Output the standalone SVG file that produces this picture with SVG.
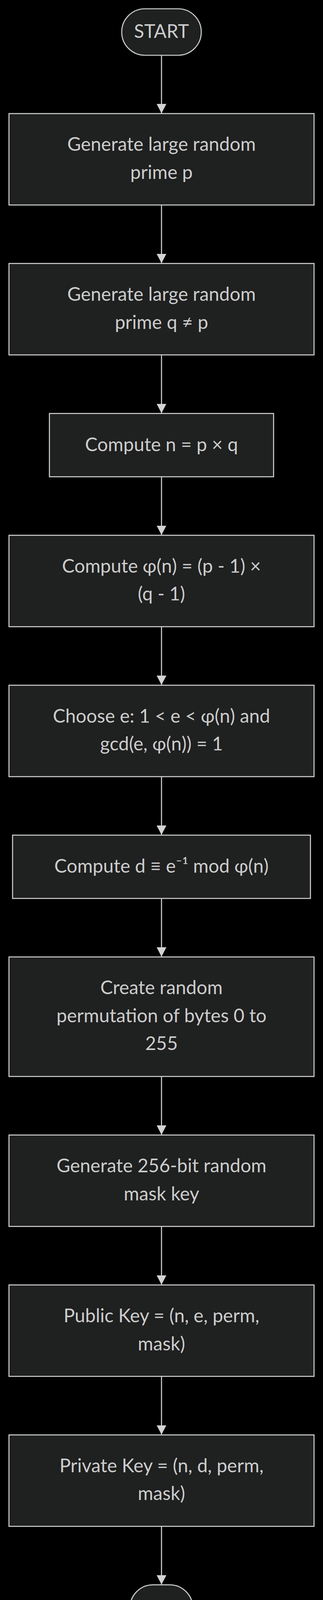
<svg xmlns="http://www.w3.org/2000/svg" width="828" height="4199" viewBox="0 0 828 4199">
<style>
.bg{fill:#000000}
.node{fill:#1f2020;stroke:#cccccc;stroke-width:2.7}
.lbl{fill:#cccccc;font-family:Lato,"Noto Sans","DejaVu Sans",sans-serif;font-size:48px;text-anchor:middle}
.edge{stroke:#d3d3d3;stroke-width:2.7;fill:none}
</style>
<defs>
<marker id="arrow" markerUnits="userSpaceOnUse" viewBox="0 0 24 25" refX="24" refY="12.5" markerWidth="24" markerHeight="25" orient="auto">
<path d="M0,0 L24,12.5 L0,25 z" fill="#d3d3d3"/>
</marker>
</defs>
<rect class="bg" x="0" y="0" width="828" height="4199"/>
<g id="connectors">
<line class="edge" x1="414" y1="141.5" x2="414" y2="290" marker-end="url(#arrow)"/>
<line class="edge" x1="414" y1="524.8" x2="414" y2="673.7" marker-end="url(#arrow)"/>
<line class="edge" x1="414" y1="908.5" x2="414" y2="1057.7" marker-end="url(#arrow)"/>
<line class="edge" x1="414" y1="1220.5" x2="414" y2="1369.5" marker-end="url(#arrow)"/>
<line class="edge" x1="414" y1="1604.3" x2="414" y2="1753.4" marker-end="url(#arrow)"/>
<line class="edge" x1="414" y1="1988.2" x2="414" y2="2137.2" marker-end="url(#arrow)"/>
<line class="edge" x1="414" y1="2300" x2="414" y2="2449" marker-end="url(#arrow)"/>
<line class="edge" x1="414" y1="2755.8" x2="414" y2="2904.9" marker-end="url(#arrow)"/>
<line class="edge" x1="414" y1="3139.7" x2="414" y2="3288.7" marker-end="url(#arrow)"/>
<line class="edge" x1="414" y1="3523.5" x2="414" y2="3672.6" marker-end="url(#arrow)"/>
<line class="edge" x1="414" y1="3907.4" x2="414" y2="4056.4" marker-end="url(#arrow)"/>
</g>
<g id="start">
<rect class="node" x="312" y="22.5" width="204" height="119" rx="59.5" ry="59.5"/>
<text class="lbl" x="414" y="96.5">START</text>
</g>
<g id="gen-p">
<rect class="node" x="23" y="290.8" width="782" height="234"/>
<text class="lbl" x="414" y="386">Generate large random</text>
<text class="lbl" x="414" y="457.5">prime p</text>
</g>
<g id="gen-q">
<rect class="node" x="23" y="674.5" width="782" height="234"/>
<text class="lbl" x="414" y="770">Generate large random</text>
<text class="lbl" x="414" y="841.5">prime q ≠ p</text>
</g>
<g id="compute-n">
<rect class="node" x="126.7" y="1058.5" width="574.6" height="162"/>
<text class="lbl" x="414" y="1154.5">Compute n = p × q</text>
</g>
<g id="compute-phi">
<rect class="node" x="23" y="1370.3" width="782" height="234"/>
<text class="lbl" x="414" y="1465.8">Compute φ(n) = (p - 1) ×</text>
<text class="lbl" x="414" y="1537.3">(q - 1)</text>
</g>
<g id="choose-e">
<rect class="node" x="23" y="1754.2" width="782" height="234"/>
<text class="lbl" x="414" y="1849.7">Choose e: 1 &lt; e &lt; φ(n) and</text>
<text class="lbl" x="414" y="1921.2">gcd(e, φ(n)) = 1</text>
</g>
<g id="compute-d">
<rect class="node" x="32.2" y="2138" width="763.6" height="162"/>
<text class="lbl" x="414" y="2234">Compute d ≡ e⁻¹ mod φ(n)</text>
</g>
<g id="perm">
<rect class="node" x="23" y="2449.8" width="782" height="306"/>
<text class="lbl" x="414" y="2545.3">Create random</text>
<text class="lbl" x="414" y="2616.8">permutation of bytes 0 to</text>
<text class="lbl" x="414" y="2688.3">255</text>
</g>
<g id="mask">
<rect class="node" x="23" y="2905.7" width="782" height="234"/>
<text class="lbl" x="414" y="3001.2">Generate 256-bit random</text>
<text class="lbl" x="414" y="3072.7">mask key</text>
</g>
<g id="public-key">
<rect class="node" x="23" y="3289.5" width="782" height="234"/>
<text class="lbl" x="414" y="3385">Public Key = (n, e, perm,</text>
<text class="lbl" x="414" y="3456.5">mask)</text>
</g>
<g id="private-key">
<rect class="node" x="23" y="3673.4" width="782" height="234"/>
<text class="lbl" x="414" y="3768.9">Private Key = (n, d, perm,</text>
<text class="lbl" x="414" y="3840.4">mask)</text>
</g>
<g id="end">
<rect class="node" x="333.2" y="4057.2" width="161" height="118" rx="59" ry="59"/>
<text class="lbl" x="413.7" y="4131">END</text>
</g>
</svg>
